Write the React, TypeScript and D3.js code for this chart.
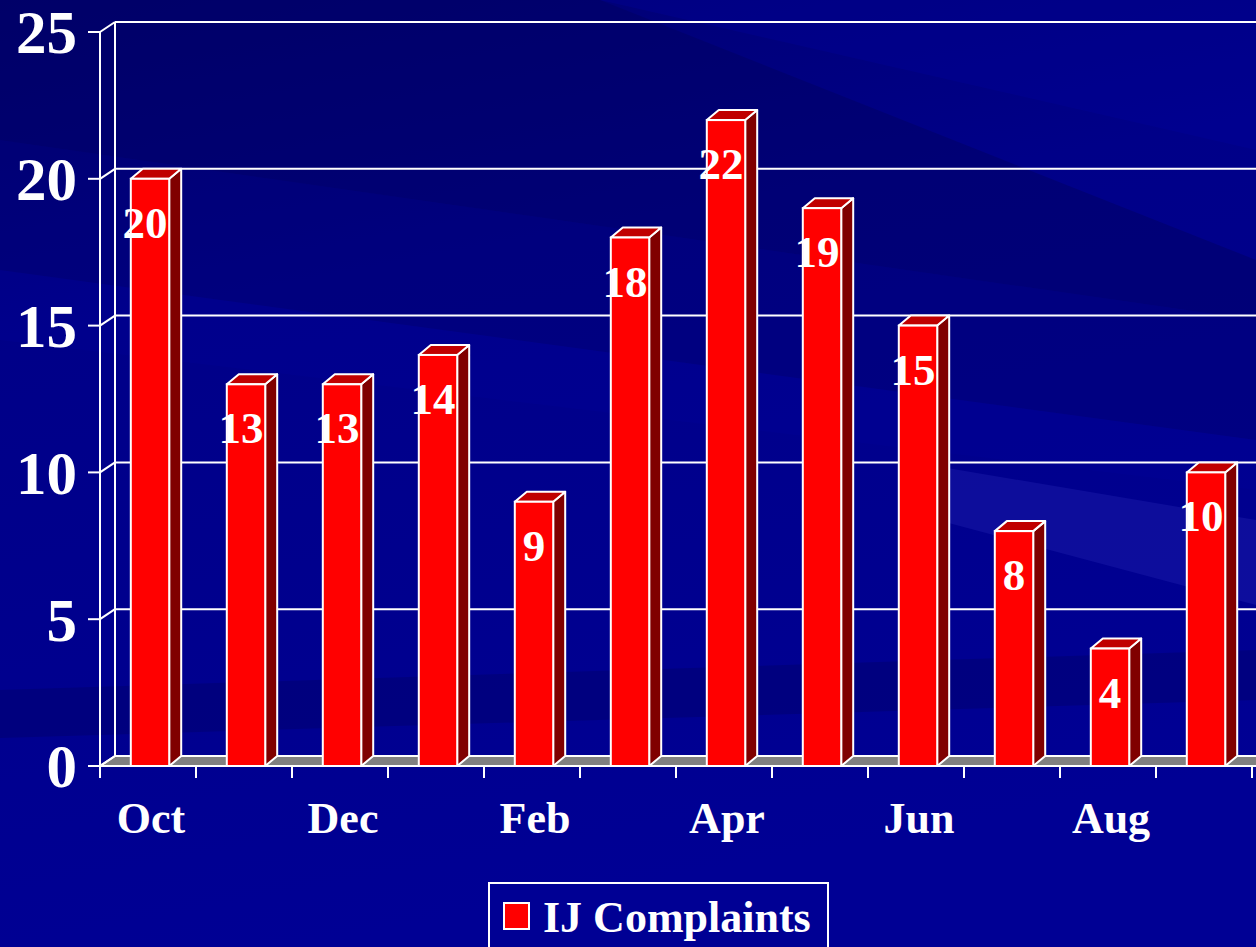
import React from "react";
import * as d3 from "d3";

const months = ["Oct", "Nov", "Dec", "Jan", "Feb", "Mar", "Apr", "May", "Jun", "Jul", "Aug", "Sep"];
const complaints = [20, 13, 13, 14, 9, 18, 22, 19, 15, 8, 4, 10];
const shownMonthLabels = ["Oct", "Dec", "Feb", "Apr", "Jun", "Aug"];
const yTicks = [0, 5, 10, 15, 20, 25];
const seriesName = "IJ Complaints";

const W = 1256;
const H = 947;
const FONT = "'Liberation Serif', 'Times New Roman', serif";

export default function App() {
  const x0 = 100;
  const x1 = 1252;
  const yFront0 = 766;
  const yFront25 = 32;
  const wallDx = 15;
  const wallDy = -10;
  const barDx = 12;
  const barDy = -10;

  const x = d3.scaleBand<string>().domain(months).range([x0, x1]).paddingInner(0.6).paddingOuter(0.3);
  const step = x.step();
  const y = d3.scaleLinear().domain([0, 25]).range([yFront0, yFront25]);

  const bw = x.bandwidth();

  return (
    <svg width={W} height={H} style={{ position: "absolute", left: 0, top: 0, display: "block" }}>
      <defs>
        <linearGradient id="bg" x1="0" y1="0" x2="0.25" y2="1">
          <stop offset="0" stopColor="#000070" />
          <stop offset="0.35" stopColor="#000088" />
          <stop offset="1" stopColor="#000094" />
        </linearGradient>
      </defs>
      <rect x={0} y={0} width={W} height={H} fill="url(#bg)" />
      {/* diagonal streaks */}
      <polygon points="0,0 600,0 1256,260 1256,320 0,140" fill="#000060" opacity={0.45} />
      <polygon points="0,140 1256,320 1256,440 0,270" fill="#000070" opacity={0.4} />
      <polygon points="600,0 1256,0 1256,150" fill="#0000a0" opacity={0.3} />
      <polygon points="0,270 1256,440 1256,490 0,340" fill="#0000a0" opacity={0.2} />
      <polygon points="900,460 1256,520 1256,605 900,510" fill="#2a2ab8" opacity={0.3} />
      <polygon points="0,690 1256,650 1256,700 0,738" fill="#00006a" opacity={0.45} />

      {/* floor */}
      <polygon
        points={`${x0},${yFront0} ${W + 20},${yFront0} ${W + 20 + wallDx},${yFront0 + wallDy} ${x0 + wallDx},${yFront0 + wallDy}`}
        fill="#808080"
        stroke="#ffffff"
        strokeWidth={2}
      />

      {/* back wall gridlines */}
      {yTicks.map((t) => (
        <g key={"g" + t}>
          <line x1={x0 + wallDx} x2={W + 20} y1={y(t) + wallDy} y2={y(t) + wallDy} stroke="#ffffff" strokeWidth={2} />
          <line x1={x0} x2={x0 + wallDx} y1={y(t)} y2={y(t) + wallDy} stroke="#ffffff" strokeWidth={2} />
        </g>
      ))}
      <line x1={x0 + wallDx} x2={x0 + wallDx} y1={y(25) + wallDy} y2={y(0) + wallDy} stroke="#ffffff" strokeWidth={2} />

      {/* bars */}
      {months.map((m, i) => {
        const v = complaints[i];
        const bx = (x(m) as number) + 2;
        const top = y(v);
        const right = bx + bw;
        return (
          <g key={m}>
            <polygon
              points={`${right},${yFront0} ${right + barDx},${yFront0 + barDy} ${right + barDx},${top + barDy} ${right},${top}`}
              fill="#800000"
              stroke="#ffffff"
              strokeWidth={2}
              strokeLinejoin="round"
            />
            <polygon
              points={`${bx},${top} ${bx + barDx},${top + barDy} ${right + barDx},${top + barDy} ${right},${top}`}
              fill="#c00000"
              stroke="#ffffff"
              strokeWidth={2}
              strokeLinejoin="round"
            />
            <rect x={bx} y={top} width={bw} height={yFront0 - top} fill="#ff0000" stroke="#ffffff" strokeWidth={2} />
          </g>
        );
      })}

      {/* value labels */}
      {months.map((m, i) => {
        const v = complaints[i];
        const cx = (x(m) as number) + 2 + bw / 2 - (v >= 10 ? 5 : 0);
        return (
          <text
            key={"v" + m}
            x={cx}
            y={y(v) + 59}
            textAnchor="middle"
            fontFamily={FONT}
            fontWeight="bold"
            fontSize={45}
            fill="#ffffff"
          >
            {v}
          </text>
        );
      })}

      {/* front axes */}
      <line x1={x0} x2={x0} y1={y(25)} y2={y(0)} stroke="#ffffff" strokeWidth={2} />
      <line x1={x0} x2={W + 20} y1={y(0)} y2={y(0)} stroke="#ffffff" strokeWidth={2} />
      {yTicks.map((t) => (
        <g key={"yt" + t}>
          <line x1={x0 - 12} x2={x0} y1={y(t)} y2={y(t)} stroke="#ffffff" strokeWidth={2} />
          <text
            x={77}
            y={y(t)}
            dy="0.35em"
            textAnchor="end"
            fontFamily={FONT}
            fontWeight="bold"
            fontSize={61}
            fill="#ffffff"
          >
            {t}
          </text>
        </g>
      ))}
      {d3.range(months.length + 1).map((k) => (
        <line
          key={"xt" + k}
          x1={x0 + k * step}
          x2={x0 + k * step}
          y1={y(0)}
          y2={y(0) + 12}
          stroke="#ffffff"
          strokeWidth={2}
        />
      ))}
      {months.map((m) =>
        shownMonthLabels.includes(m) ? (
          <text
            key={"xl" + m}
            x={(x(m) as number) + bw / 2 + 3}
            y={833}
            textAnchor="middle"
            fontFamily={FONT}
            fontWeight="bold"
            fontSize={44}
            fill="#ffffff"
          >
            {m}
          </text>
        ) : null
      )}

      {/* legend */}
      <rect x={489} y={883} width={339} height={80} fill="#000094" stroke="#ffffff" strokeWidth={2} />
      <rect x={504} y={903} width={25} height={26} fill="#ff0000" stroke="#ffffff" strokeWidth={2} />
      <text x={543} y={932} fontFamily={FONT} fontWeight="bold" fontSize={44} fill="#ffffff">
        {seriesName}
      </text>
    </svg>
  );
}
